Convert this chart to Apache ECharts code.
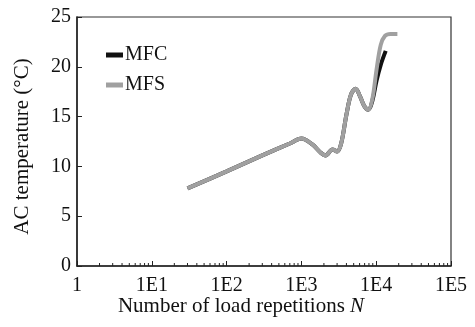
<!DOCTYPE html>
<html>
<head>
<meta charset="utf-8">
<script src="https://cdn.jsdelivr.net/npm/echarts@6/dist/echarts.min.js"></script>
<style>
  html, body { margin: 0; padding: 0; background: #fff; }
  #chart { width: 475px; height: 327px; }
</style>
</head>
<body>
<div id="chart"></div>
<script>
// load repetitions N and AC temperature (°C)
var mfsN = [30, 100, 300, 700, 1000, 1400, 1800, 2100, 2600, 3000, 3400, 4000, 4600, 5300, 6100, 7000, 7850, 8900, 10100, 11500, 13100, 15500, 19200]
var mfsT = [7.8, 9.5, 11.1, 12.3, 12.8, 12.2, 11.4, 11.1, 11.7, 11.5, 12.3, 15.2, 17.2, 17.8, 17.0, 16.0, 15.7, 16.8, 19.7, 22.2, 23.1, 23.3, 23.3]

var mfcN = [30, 100, 300, 700, 1000, 1400, 1800, 2100, 2600, 3000, 3400, 4000, 4600, 5300, 6100, 7000, 7850, 8900, 10100, 11500, 13400]
var mfcT = [7.8, 9.5, 11.1, 12.3, 12.8, 12.2, 11.4, 11.1, 11.7, 11.5, 12.3, 15.2, 17.2, 17.8, 17.0, 16.0, 15.7, 16.6, 18.6, 20.2, 21.6]

var decades = [1, 10, 100, 1000, 10000]
var yTicks = [0, 5, 10, 15, 20, 25]

var minorTicks = []
decades.forEach(function (d) {
  for (var k = 2; k <= 9; k++) minorTicks.push([d * k, 0])
})

function pairs(xs, ys) {
  return xs.map(function (x, i) { return [x, ys[i]] })
}

var serif = 'Liberation Serif'
var chart = echarts.init(document.getElementById('chart'))

var option = {
  animation: false,
  grid: {
    left: 77, right: 24, top: 17, bottom: 61,
    show: true, borderColor: '#333', borderWidth: 1.2
  },
  legend: {
    orient: 'vertical',
    left: 101, top: 40,
    itemGap: 10,
    itemWidth: 17, itemHeight: 5,
    icon: 'rect',
    textStyle: { fontFamily: serif, fontSize: 20, color: '#111', padding: [0, 0, 0, -3] },
    data: ['MFC', 'MFS']
  },
  xAxis: {
    type: 'log',
    logBase: 10,
    min: 1, max: 100000,
    splitNumber: 5,
    name: '{n|Number of load repetitions }{i|N}',
    nameLocation: 'middle',
    nameGap: 30,
    nameMoveOverlap: false,
    nameTextStyle: {
      verticalAlign: 'top',
      padding: [0, 46, 0, 0],
      rich: {
        n: { fontFamily: serif, fontSize: 21, color: '#111' },
        i: { fontFamily: serif, fontSize: 21, color: '#111', fontStyle: 'italic' }
      }
    },
    axisLine: { lineStyle: { color: '#222', width: 1.5 } },
    axisTick: { inside: true, length: 5, lineStyle: { color: '#222' } },
    axisLabel: {
      fontFamily: serif, fontSize: 20, color: '#111', margin: 10,
      formatter: function (v) {
        return v === 1 ? '1' : '1E' + Math.round(Math.log10(v))
      }
    },
    splitLine: { show: false }
  },
  yAxis: {
    type: 'value',
    min: 0, max: 25, interval: 5,
    name: 'AC temperature (°C)',
    nameLocation: 'middle',
    nameGap: 44,
    nameMoveOverlap: false,
    nameTextStyle: { fontFamily: serif, fontSize: 21, color: '#111', padding: [0, 0, 0, -10] },
    axisLine: { show: true, lineStyle: { color: '#222', width: 1.5 } },
    axisTick: { show: true, inside: true, length: 5, lineStyle: { color: '#222' } },
    axisLabel: { fontFamily: serif, fontSize: 20, color: '#111', margin: 6 },
    splitLine: { show: false }
  },
  series: [
    {
      type: 'custom',
      silent: true,
      data: minorTicks,
      renderItem: function (params, api) {
        var p = api.coord([api.value(0), 0])
        return {
          type: 'line',
          shape: { x1: p[0], y1: p[1], x2: p[0], y2: p[1] - 3 },
          style: { stroke: '#222', lineWidth: 1 }
        }
      }
    },
    {
      name: 'MFC',
      type: 'line',
      smooth: 0.35,
      showSymbol: false,
      data: pairs(mfcN, mfcT),
      color: '#111',
      lineStyle: { width: 4, color: '#111' }
    },
    {
      name: 'MFS',
      type: 'line',
      smooth: 0.35,
      showSymbol: false,
      data: pairs(mfsN, mfsT),
      color: '#a0a0a0',
      lineStyle: { width: 4, color: '#a0a0a0' }
    }
  ]
}

chart.setOption(option)
</script>
</body>
</html>
